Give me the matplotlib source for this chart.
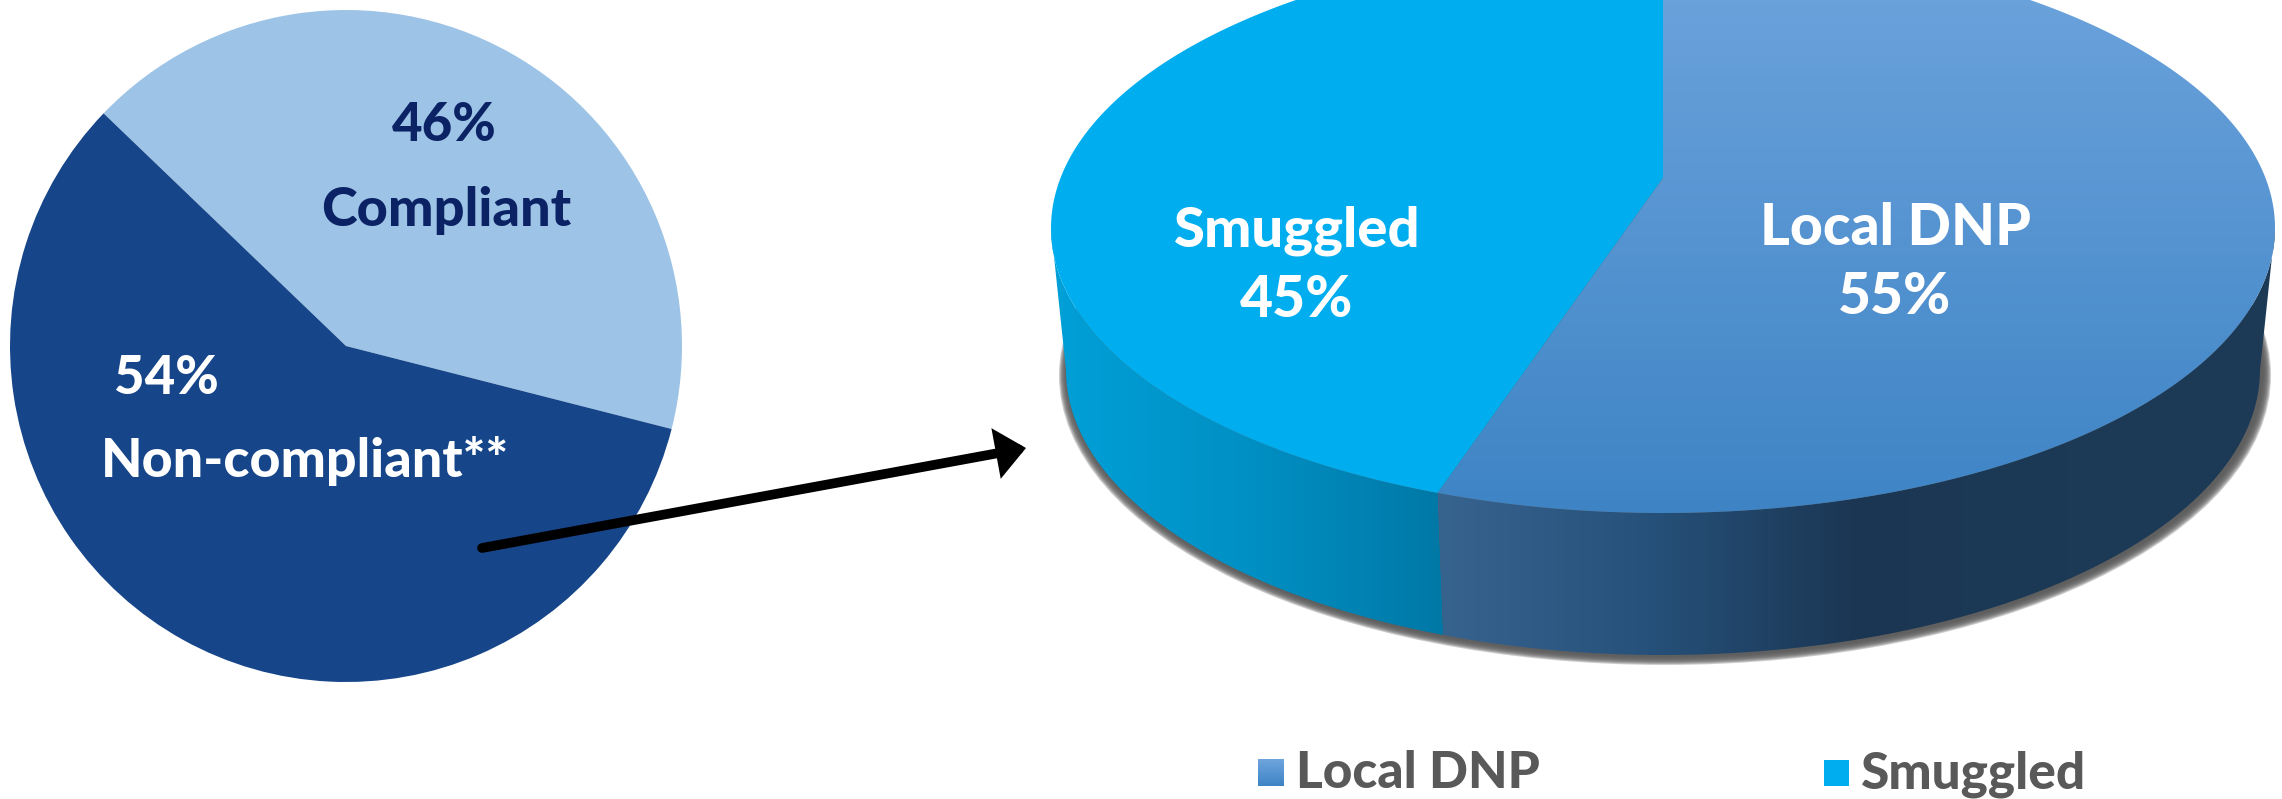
import numpy as np
import matplotlib
matplotlib.use('Agg')
import matplotlib.pyplot as plt
from matplotlib.colors import LinearSegmentedColormap
from matplotlib.patches import Ellipse, FancyArrowPatch, Polygon, Rectangle

W, H = 2282, 799

# slice sizes, printed labels are kept separately
compliance_names = ['Compliant', 'Non-compliant**']
compliance_labels = ['46%', '54%']
compliance_shares = [41.8, 58.2]
source_names = ['Local DNP', 'Smuggled']
source_labels = ['55%', '45%']
source_shares = [56.0, 44.0]

light_blue = '#9DC3E6'
dark_blue = '#164589'
navy = '#0B2265'
cyan = '#00AEEF'
grey_text = '#595959'

plt.rcParams['font.family'] = ['Lato', 'DejaVu Sans']
fig = plt.figure(figsize=(W / 100, H / 100), dpi=100)

# left pie has its own square axes
cx_l, cy_l, r_l = 346, 346, 336
ax_pie = fig.add_axes([(cx_l - r_l) / W, (H - cy_l - r_l) / H, 2 * r_l / W, 2 * r_l / H])
ax_pie.pie(compliance_shares, colors=[light_blue, dark_blue], startangle=-14.3, radius=1)
ax_pie.set_xlim(-1, 1)
ax_pie.set_ylim(-1, 1)

# everything else goes on an overlay in pixel coordinates
ax = fig.add_axes([0, 0, 1, 1], zorder=2)
ax.patch.set_alpha(0)
ax.axis('off')
ax.set_xlim(0, W)
ax.set_ylim(H, 0)

# fake 3D pie: top ellipse, a slightly smaller one below it
cx, cy, rx, ry = 1663, 228, 612, 285
cx_b, cy_b, rx_b, ry_b = 1663, 370, 597, 285
apex = (1663, 178)


def arc(t0, t1, x0, y0, a, b):
    t = np.radians(np.linspace(t0, t1, 200))
    return np.column_stack([x0 + a * np.cos(t), y0 - b * np.sin(t)])


def gradient(patch, stops, extent, vertical=False):
    cmap = LinearSegmentedColormap.from_list('g', stops)
    grad = np.linspace(0, 1, 512)
    grad = grad.reshape(-1, 1) if vertical else grad.reshape(1, -1)
    ax.add_patch(patch)
    im = ax.imshow(grad, cmap=cmap, extent=extent, aspect='auto', zorder=patch.get_zorder())
    im.set_clip_path(patch)
    ax.set_xlim(0, W)
    ax.set_ylim(H, 0)


split = 90 - 360 * source_shares[0] / 100 + 360

# soft shadow under the side wall
for k in range(9, 0, -1):
    ax.add_patch(Ellipse((cx_b + 2, cy_b + 1 + k * 0.5), 2 * (rx_b + k), 2 * (ry_b + k * 0.5),
                         fc='#5A5A5A', ec='none', alpha=0.3, zorder=1))

side_blue = np.vstack([arc(180, split, cx, cy, rx, ry), arc(split, 180, cx_b, cy_b, rx_b, ry_b)])
side_dark = np.vstack([arc(split, 360, cx, cy, rx, ry), arc(360, split, cx_b, cy_b, rx_b, ry_b)])
gradient(Polygon(side_blue, fc='none', ec='none', zorder=2),
         ['#00A0D8', '#0090C4', '#0078A6'], (1050, 1445, 660, 220))
gradient(Polygon(side_dark, fc='none', ec='none', zorder=2),
         ['#37638F', '#26517A', '#1B3653', '#1C3A56', '#1D3B57'], (1438, 2276, 660, 220))

top_smuggled = np.vstack([[apex], arc(split, 90, cx, cy, rx, ry)])
top_local = np.vstack([[apex], arc(90, split - 360, cx, cy, rx, ry)])
ax.add_patch(Polygon(top_smuggled, fc=cyan, ec='none', zorder=3))
gradient(Polygon(top_local, fc='none', ec='none', zorder=3),
         ['#6FA5DE', '#3E84C5'], (1430, 2280, 515, -65), vertical=True)

# arrow from the non-compliant slice to the 3D pie
ax.add_patch(FancyArrowPatch((482, 548), (1026, 448),
                             arrowstyle='-|>,head_length=13,head_width=11', mutation_scale=1,
                             lw=7, color='black', capstyle='round', joinstyle='miter',
                             shrinkA=0, shrinkB=0, zorder=5))

label = dict(ha='center', va='baseline', fontweight='black', zorder=6)
ax.text(444, 141, compliance_labels[0], color=navy, fontsize=38, **label)
ax.text(446, 226, compliance_names[0], color=navy, fontsize=39, **label)
ax.text(166, 394, compliance_labels[1], color='white', fontsize=38, **label)
ax.text(305, 477, compliance_names[1], color='white', fontsize=38.7, **label)
ax.text(1297, 247, source_names[1], color='white', fontsize=40.5, **label)
ax.text(1297, 317, source_labels[1], color='white', fontsize=41, **label)
ax.text(1895, 245, source_names[0], color='white', fontsize=41, **label)
ax.text(1895, 314, source_labels[0], color='white', fontsize=41, **label)

# legend
gradient(Rectangle((1258, 759), 26, 27, fc='none', ec='none', zorder=4),
         ['#6FA5DE', '#3E84C5'], (1258, 1284, 786, 759), vertical=True)
ax.add_patch(Rectangle((1824, 760), 25, 26, fc=cyan, ec='none', zorder=4))
ax.text(1296, 788, source_names[0], color=grey_text, fontsize=37, ha='left', va='baseline', fontweight='black')
ax.text(1861, 788, source_names[1], color=grey_text, fontsize=37, ha='left', va='baseline', fontweight='black')

fig.savefig('out.png', dpi=100)
